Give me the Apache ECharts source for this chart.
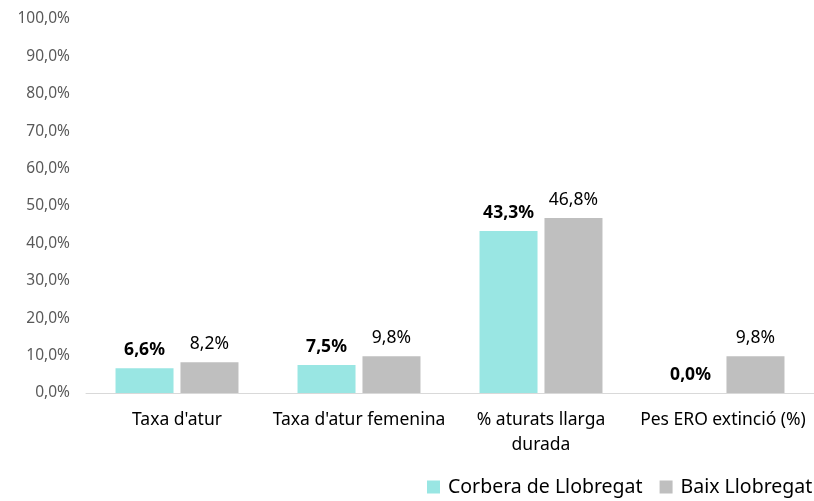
<!DOCTYPE html>
<html>
<head>
<meta charset="utf-8">
<script src="https://cdn.jsdelivr.net/npm/echarts@6/dist/echarts.min.js"></script>
<style>
  html, body { margin: 0; padding: 0; background: #fff; }
  #chart { width: 814px; height: 501px; }
</style>
</head>
<body>
<div id="chart"></div>
<script>
var categories = ["Taxa d'atur", "Taxa d'atur femenina", "% aturats llarga\ndurada", "Pes ERO extinció (%)"];
var corbera = [6.6, 7.5, 43.3, 0.0];
var baix = [8.2, 9.8, 46.8, 9.8];
var seriesNames = ['Corbera de Llobregat', 'Baix Llobregat'];

function pct(v) {
    return v.toFixed(1).replace('.', ',') + '%';
}

var dom = document.getElementById('chart');
var myChart = echarts.init(dom);
var font = '"Noto Sans", "Open Sans", sans-serif';

var option = {
    textStyle: { fontFamily: font },
    animation: false,
    grid: { left: 86, width: 732, top: 19, bottom: 108, containLabel: false },
    legend: {
        data: seriesNames,
        left: 427,
        top: 477,
        padding: [0, 0, 0, 0],
        itemWidth: 13,
        itemHeight: 13,
        itemGap: 17,
        icon: 'rect',
        textStyle: { fontSize: 19.5, color: '#000', fontFamily: font, padding: [0, 0, 0, 3] }
    },
    xAxis: {
        type: 'category',
        data: categories,
        axisLine: { lineStyle: { color: '#d9d9d9', width: 1 } },
        axisTick: { show: false },
        axisLabel: { interval: 0, color: '#000', fontSize: 17.5, margin: 15, lineHeight: 25, fontFamily: font }
    },
    yAxis: {
        type: 'value',
        min: 0,
        max: 100,
        interval: 10,
        splitLine: { show: false },
        axisLine: { show: false },
        axisTick: { show: false },
        axisLabel: { color: '#595959', fontSize: 15.5, margin: 16, fontFamily: font, formatter: function (v) { return pct(v); } }
    },
    series: [
        {
            name: seriesNames[0],
            type: 'bar',
            data: corbera,
            barWidth: 58,
            barGap: '12%',
            itemStyle: { color: '#99e6e3' },
            label: { show: true, position: 'top', distance: 9, fontSize: 17.5, fontWeight: 'bold', color: '#000', fontFamily: font, formatter: function (p) { return pct(p.value); } }
        },
        {
            name: seriesNames[1],
            type: 'bar',
            data: baix,
            barWidth: 58,
            itemStyle: { color: '#bfbfbf' },
            label: { show: true, position: 'top', distance: 9, fontSize: 17.5, color: '#000', fontFamily: font, formatter: function (p) { return pct(p.value); } }
        }
    ]
};

if (option && typeof option === "object") {
    myChart.setOption(option, true);
}
</script>
</body>
</html>
